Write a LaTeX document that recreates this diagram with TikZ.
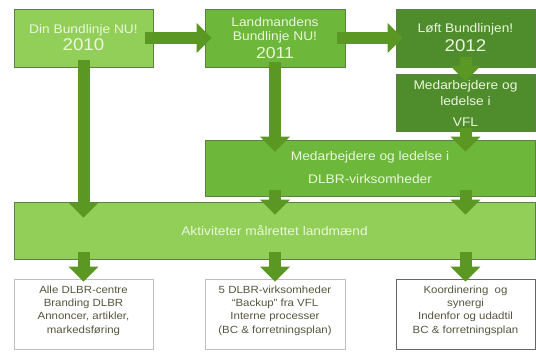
\documentclass[tikz,border=0pt]{standalone}
\usepackage{fontspec}
\setmainfont[FakeStretch=1.1]{Liberation Sans}
\usetikzlibrary{arrows.meta,calc}
\definecolor{lgreen}{HTML}{92CF58}
\definecolor{mgreen}{HTML}{6DB83A}
\definecolor{dgreen}{HTML}{4F8D2C}
\definecolor{arrowc}{HTML}{5A9823}
\definecolor{boxtext}{HTML}{EAF6DD}
\definecolor{edgec}{HTML}{5C7F45}
\definecolor{btext}{HTML}{55553F}
\newcommand\fsz[2]{\fontsize{#1}{#2}\selectfont}
\tikzset{
  gbox/.style={rectangle, draw=edgec, line width=0.7pt, inner sep=0pt, align=center,
    text=boxtext, font=\fsz{12.5}{15}},
  wbox/.style={rectangle, draw=#1, fill=white, line width=0.7pt, inner sep=0pt, align=center,
    text=btext, font=\fsz{10.4}{13.4}, text depth=9pt},
  barrow/.style={draw=arrowc, line width=12pt, -{Triangle[width=29pt,length=15pt]}}
}
\begin{document}
\begin{tikzpicture}[x=1pt,y=-1pt]
\useasboundingbox (0,0) rectangle (536,352);
\fill[white] (0,0) rectangle (536,352);
% top row
\node[gbox, fill=lgreen, minimum width=139pt, minimum height=58pt] (b1) at (83.5,38)
  {Din Bundlinje NU!\\[2pt]{\fsz{17}{19}2010}};
\node[gbox, fill=mgreen, minimum width=140pt, minimum height=58pt] (b2) at (275,38)
  {Landmandens\\[-1pt]Bundlinje NU!\\[3pt]{\fsz{16}{18}2011}};
\node[gbox, fill=dgreen, minimum width=139pt, minimum height=58pt] (b3) at (465.5,38)
  {Løft Bundlinjen!\\[4pt]{\fsz{17}{19}2012}};
\node[gbox, fill=dgreen, minimum width=139pt, minimum height=57pt] (b4) at (465.5,103)
  {Medarbejdere og\\[1pt]ledelse i\\[6pt]VFL};
\node[gbox, fill=mgreen, minimum width=330pt, minimum height=56pt] (b5) at (370,168)
  {Medarbejdere og ledelse i\\[8pt]DLBR-virksomheder};
\node[gbox, fill=lgreen, minimum width=521pt, minimum height=57pt] (b6) at (274.5,230.5)
  {Aktiviteter målrettet landmænd};
% bottom row
\node[wbox=black!25, minimum width=139pt, minimum height=70pt] (c1) at (83.5,314)
  {Alle DLBR-centre\\Branding DLBR\\Annoncer, artikler,\\markedsføring};
\node[wbox=black!25, minimum width=140pt, minimum height=70pt] (c2) at (275,314)
  {5 DLBR-virksomheder\\“Backup” fra VFL\\Interne processer\\(BC \& forretningsplan)};
\node[wbox=black!60, minimum width=139pt, minimum height=70pt] (c3) at (465.5,314)
  {Koordinering\ \ og\\synergi\\Indenfor og udadtil\\BC \& forretningsplan};
% arrows
\draw[barrow] ([xshift=-8pt]b1.east) -- ([xshift=7pt]b2.west);
\draw[barrow] ([xshift=-8pt]b2.east) -- ([xshift=7pt]b3.west);
\draw[barrow] ([yshift=7pt]b1.south) -- ($(b1.south |- b6.north)+(0,16)$);
\draw[barrow] ([yshift=5pt]b2.south) -- ($(b2.south |- b5.north)+(0,12)$);
\draw[barrow] ([yshift=10pt]b3.south) -- ($(b3.south |- b4.north)+(0,7)$);
\draw[barrow] ([yshift=4pt]b4.south) -- ($(b4.south |- b5.north)+(0,12)$);
\draw[barrow] ($(b2.south |- b5.south)+(0,-6)$) -- ($(b2.south |- b6.north)+(0,13)$);
\draw[barrow] ($(b3.south |- b5.south)+(0,-6)$) -- ($(b3.south |- b6.north)+(0,13)$);
\draw[barrow] ($(c1.north |- b6.south)+(0,-7)$) -- ([yshift=-3pt]c1.north);
\draw[barrow] ($(c2.north |- b6.south)+(0,-7)$) -- ([yshift=-3pt]c2.north);
\draw[barrow] ($(c3.north |- b6.south)+(0,-7)$) -- ([yshift=-3pt]c3.north);
\end{tikzpicture}
\end{document}
